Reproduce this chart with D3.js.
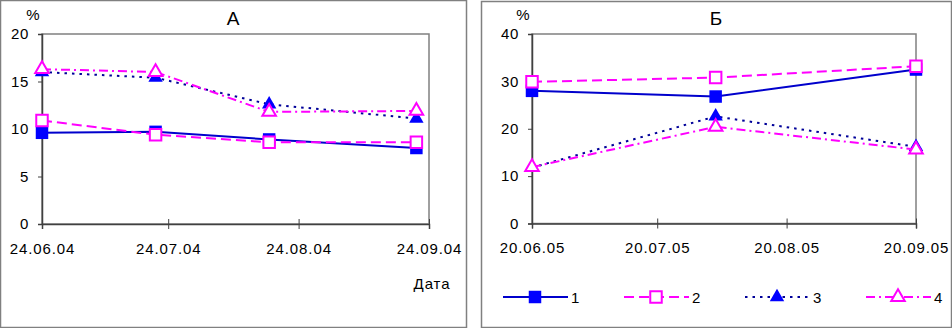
<!DOCTYPE html>
<html>
<head>
<meta charset="utf-8">
<script src="https://cdn.jsdelivr.net/npm/d3@7"></script>
<style>
  html, body { margin: 0; padding: 0; background: #fff; }
  text { font-family: "Liberation Sans", Arial, sans-serif; fill: #000; }
</style>
</head>
<body>
<div id="chart"></div>
<script>
// data
const seriesNames = ["1", "2", "3", "4"];

const datesA = ["2004-06-24", "2004-07-21", "2004-08-17", "2004-09-21"];
const ticksA = ["2004-06-24", "2004-07-24", "2004-08-24", "2004-09-24"];
const yTicksA = [0, 5, 10, 15, 20];
const a1 = [9.6, 9.7, 8.9, 8.0];
const a2 = [10.9, 9.4, 8.6, 8.6];
const a3 = [16.0, 15.4, 12.6, 11.1];
const a4 = [16.3, 16.0, 11.8, 11.9];

const datesB = ["2005-06-20", "2005-08-03", "2005-09-20"];
const ticksB = ["2005-06-20", "2005-07-20", "2005-08-20", "2005-09-20"];
const yTicksB = [0, 10, 20, 30, 40];
const b1 = [28.0, 26.8, 32.5];
const b2 = [29.9, 30.8, 33.2];
const b3 = [11.8, 22.6, 16.2];
const b4 = [11.9, 20.4, 15.6];

// styles per series
const styles = [
  { line: "#0000cc", dash: null,      marker: d3.symbolSquare,   size: 156, fill: "#0000ff", stroke: "none" },
  { line: "#ff00ff", dash: "10,5",    marker: d3.symbolSquare,   size: 132, fill: "#fff",    stroke: "#ff00ff" },
  { line: "#000099", dash: "2.5,5",   marker: d3.symbolTriangle, size: 90,  fill: "#0000ff", stroke: "none" },
  { line: "#ff00ff", dash: "9,4,2,4", marker: d3.symbolTriangle, size: 80,  fill: "#fff",    stroke: "#ff00ff" }
];

const W = 952, H = 328;
const parse = d3.utcParse("%Y-%m-%d");
const fmt = d3.utcFormat("%d.%m.%y");

const svg = d3.select("#chart").append("svg")
  .attr("width", W).attr("height", H)
  .style("display", "block");

svg.append("rect").attr("width", W).attr("height", H).attr("fill", "#fff");

function drawPanel(cfg) {
  const g = svg.append("g");

  // outer frame
  g.append("rect")
    .attr("x", cfg.box[0] + 0.5).attr("y", cfg.box[1] + 0.5)
    .attr("width", cfg.box[2] - cfg.box[0]).attr("height", cfg.box[3] - cfg.box[1])
    .attr("fill", "none").attr("stroke", "#808080").attr("stroke-width", 1.5);

  const x = d3.scaleUtc()
    .domain(d3.extent(cfg.ticks, parse))
    .range([cfg.left, cfg.right]);
  const y = d3.scaleLinear()
    .domain([0, d3.max(cfg.yTicks)])
    .range([cfg.bottom, cfg.top]);

  // plot frame (top/right grey)
  g.append("rect")
    .attr("x", cfg.left).attr("y", cfg.top)
    .attr("width", cfg.right - cfg.left).attr("height", cfg.bottom - cfg.top)
    .attr("fill", "none").attr("stroke", "#808080").attr("stroke-width", 1.5);

  // y axis
  const yAxis = g.append("g")
    .attr("transform", `translate(${cfg.left},0)`)
    .call(d3.axisLeft(y).tickValues(cfg.yTicks).tickSize(4).tickPadding(9));
  yAxis.select(".domain").attr("stroke", "#404040").attr("stroke-width", 1.5);
  yAxis.selectAll(".tick line").attr("stroke", "#404040");
  yAxis.selectAll("text")
    .style("font-family", "'Liberation Sans', Arial, sans-serif")
    .style("font-size", "15px").style("letter-spacing", "0.6px").attr("fill", "#000");

  // x axis
  const xAxis = g.append("g")
    .attr("transform", `translate(0,${cfg.bottom})`)
    .call(d3.axisBottom(x).tickValues(cfg.ticks.map(parse)).tickFormat(fmt).tickSize(5).tickPadding(14));
  xAxis.select(".domain").attr("stroke", "#404040").attr("stroke-width", 1.5);
  xAxis.selectAll(".tick line").attr("y1", -5).attr("stroke", "#404040");
  xAxis.selectAll("text")
    .style("font-family", "'Liberation Sans', Arial, sans-serif")
    .style("font-size", "15px").style("letter-spacing", "0.9px").attr("fill", "#000");

  // series
  const line = d3.line().x(d => x(d.date)).y(d => y(d.value));
  cfg.series.forEach((vals, i) => {
    const st = styles[i];
    const pts = vals.map((v, j) => ({ date: parse(cfg.dates[j]), value: v }));
    g.append("path")
      .datum(pts)
      .attr("d", line)
      .attr("fill", "none")
      .attr("stroke", st.line)
      .attr("stroke-width", 2)
      .attr("stroke-dasharray", st.dash);
    g.selectAll(null)
      .data(pts)
      .join("path")
        .attr("transform", d => `translate(${x(d.date)},${y(d.value)})`)
        .attr("d", d3.symbol(st.marker, st.size))
        .attr("fill", st.fill)
        .attr("stroke", st.stroke)
        .attr("stroke-width", 2);
  });

  // titles
  g.append("text")
    .attr("x", cfg.titleX).attr("y", 25)
    .attr("text-anchor", "middle")
    .style("font-size", "19px")
    .text(cfg.title);
  g.append("text")
    .attr("x", cfg.left - 9).attr("y", 20)
    .attr("text-anchor", "middle")
    .style("font-size", "15px")
    .text("%");

  return { x, y };
}

drawPanel({
  box: [0, 0, 466, 327],
  left: 42, right: 429, top: 34, bottom: 224,
  ticks: ticksA, yTicks: yTicksA, dates: datesA,
  series: [a1, a2, a3, a4],
  title: "А", titleX: 233
});

svg.append("text")
  .attr("x", 432).attr("y", 289)
  .attr("text-anchor", "middle")
  .style("font-size", "15px")
  .style("letter-spacing", "0.9px")
  .text("Дата");

drawPanel({
  box: [481, 1, 951, 327],
  left: 532, right: 916, top: 34, bottom: 223.5,
  ticks: ticksB, yTicks: yTicksB, dates: datesB,
  series: [b1, b2, b3, b4],
  title: "Б", titleX: 716
});

// legend
const legend = svg.append("g").attr("transform", "translate(503,297)");
seriesNames.forEach((name, i) => {
  const st = styles[i];
  const item = legend.append("g").attr("transform", `translate(${i * 121},0)`);
  item.append("line")
    .attr("x1", 0).attr("x2", 65)
    .attr("stroke", st.line).attr("stroke-width", 2)
    .attr("stroke-dasharray", st.dash);
  item.append("path")
    .attr("transform", "translate(32,0)")
    .attr("d", d3.symbol(st.marker, st.size))
    .attr("fill", st.fill).attr("stroke", st.stroke).attr("stroke-width", 2);
  item.append("text")
    .attr("x", 68).attr("y", 5.5)
    .style("font-size", "15px")
    .text(name);
});
</script>
</body>
</html>
